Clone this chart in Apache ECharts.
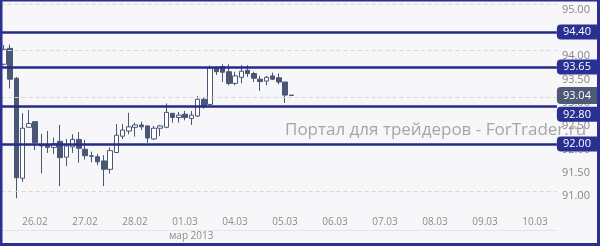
<!DOCTYPE html>
<html>
<head>
<meta charset="utf-8">
<script src="https://cdn.jsdelivr.net/npm/echarts@6/dist/echarts.min.js"></script>
<style>
html,body{margin:0;padding:0;background:#f7f7fa;}
#c{width:600px;height:246px;}
</style>
</head>
<body>
<div id="c"></div>
<script>
// ---- data ----
const days = ['25.02','26.02','27.02','28.02','01.03','04.03','05.03','06.03','07.03','08.03','09.03','10.03'];
const hours = ['00','03','06','09','12','15','18','21'];
const firstHourIndex = 3;      // series starts 25.02 09:00
const slotCount = 89;
const monthLabel = 'мар 2013';

const opens  = [93.71,94.05,93.41,91.27,92.36,92.48,91.98,91.99,91.93,92.06,91.72,91.94,92.10,91.89,91.75,91.73,
                91.64,91.46,91.82,92.17,92.28,92.36,92.41,92.39,92.11,92.34,92.36,92.66,92.57,92.64,92.55,92.60,
                92.96,92.85,93.63,93.66,93.55,93.30,93.43,93.58,93.51,93.39,93.35,93.46,93.42,93.33,93.05];
const highs  = [94.12,94.13,93.44,92.66,92.73,92.48,92.22,92.28,92.14,92.41,92.11,92.21,92.26,92.09,91.84,91.79,
                91.76,91.93,92.43,92.43,92.67,92.46,92.48,92.39,92.39,92.41,92.87,92.66,92.69,92.71,92.71,93.03,
                93.00,93.68,93.66,93.71,93.71,93.55,93.69,93.69,93.55,93.46,93.46,93.53,93.51,93.33,93.05];
const lows   = [93.69,93.19,90.84,91.19,92.36,91.87,91.37,91.81,91.79,91.10,91.53,91.81,91.60,91.67,91.61,91.55,
                91.10,91.37,91.82,92.11,92.21,92.16,92.30,92.03,92.09,92.17,92.34,92.46,92.46,92.51,92.41,92.58,
                92.76,92.82,93.48,93.33,93.26,93.26,93.30,93.44,93.33,93.14,93.26,93.37,93.28,92.88,93.03];
const closes = [94.03,93.39,91.28,92.34,92.44,92.03,91.96,91.93,92.01,91.71,91.96,92.10,91.91,91.75,91.74,91.62,
                91.46,91.86,92.19,92.30,92.37,92.41,92.37,92.13,92.34,92.39,92.68,92.57,92.62,92.57,92.62,92.96,
                92.80,93.63,93.55,93.54,93.30,93.46,93.56,93.51,93.41,93.34,93.43,93.39,93.33,93.05,93.04];

const levels = [94.40, 93.65, 92.80, 92.00];
const lastPrice = 93.04;
const gridValues = [91, 92, 93, 94, 95];

// ---- build ----
const categories = [];
for (let d = 0; d < days.length && categories.length < slotCount; d++) {
  for (let h = (d === 0 ? firstHourIndex : 0); h < hours.length && categories.length < slotCount; h++) {
    categories.push(days[d] + ' ' + hours[h]);
  }
}
const ohlc = opens.map((o, i) => [o, closes[i], lows[i], highs[i]]);

const levelColor = '#262b8a';
const candleColor = '#4a5675';
const font = 'Open Sans';

const markData = levels.map((v) => ({
  yAxis: v,
  label: {
    formatter: v.toFixed(2),
    verticalAlign: v === 92.80 ? 'top' : 'middle'
  }
}));
markData.push({
  yAxis: lastPrice,
  lineStyle: { color: 'rgba(0,0,0,0)', width: 0 },
  label: {
    formatter: lastPrice.toFixed(2),
    backgroundColor: '#4d5977',
    color: '#ffffff',
    padding: [4, 7, 1, 6]
  }
});

const chart = echarts.init(document.getElementById('c'), null, { renderer: 'canvas' });
chart.setOption({
  animation: false,
  backgroundColor: '#f7f7fa',
  grid: { left: 0.625, right: 43.125, top: 4, bottom: 31.85 },
  xAxis: [{
    type: 'category',
    data: categories,
    boundaryGap: true,
    axisLine: { show: false },
    axisTick: { show: false },
    splitLine: { show: false },
    axisLabel: {
      interval: (idx, val) => val.endsWith(' 00'),
      formatter: v => v.split(' ')[0],
      color: '#8c8c8c', fontSize: 10, fontFamily: font, margin: 3
    }
  }, {
    type: 'category',
    data: categories,
    position: 'bottom',
    offset: 16,
    boundaryGap: true,
    axisLine: { show: true, lineStyle: { color: '#e3e3e8', width: 1 } },
    axisTick: { show: false },
    axisLabel: {
      interval: (idx) => idx === 30,
      formatter: () => monthLabel,
      color: '#8c8c8c', fontSize: 10, fontFamily: font, margin: 1
    }
  }],
  yAxis: {
    type: 'value',
    position: 'right',
    min: 90.5, max: 95, interval: 0.5,
    axisLine: { show: false },
    axisTick: { show: false },
    splitLine: { show: false },
    axisLabel: {
      formatter: v => v < 90.9 ? '' : v.toFixed(2),
      color: '#858585', fontSize: 11, fontFamily: font,
      verticalAlign: 'top', margin: 5
    }
  },
  graphic: [{
    type: 'text',
    left: 285, top: 122, z: 1,
    style: {
      text: 'Портал для трейдеров - ForTrader.ru',
      fill: '#a6a6a6', font: '17px "Open Sans"'
    }
  }, {
    type: 'rect', z: 100, silent: true,
    shape: { x: 1, y: 0, width: 597.5, height: 244.5 },
    style: { fill: 'none', stroke: '#2b2f8f', lineWidth: 3 }
  }],
  series: [{
    type: 'candlestick',
    data: ohlc,
    barWidth: 5,
    itemStyle: {
      color: '#ffffff', borderColor: candleColor,
      color0: candleColor, borderColor0: candleColor,
      borderWidth: 1
    },
    markLine: {
      silent: true,
      symbol: ['none', 'none'],
      animation: false,
      data: gridValues.map(v => ({
        yAxis: v,
        lineStyle: { color: '#dcd7d2', width: 1, type: [4, 3] },
        label: { show: false }
      })),
    }
  }, {
    type: 'candlestick',
    data: [],
    markLine: {
      silent: true,
      symbol: ['none', 'none'],
      animation: false,
      lineStyle: { color: levelColor, width: 2.5, type: 'solid' },
      label: {
        show: true, position: 'end', distance: 0,
        color: '#ffffff', backgroundColor: '#283093',
        fontSize: 11, fontFamily: font, lineHeight: 12,
        padding: [2, 7, 1, 6], borderRadius: [4, 0, 0, 4]
      },
      data: markData
    }
  }]
});
</script>
</body>
</html>
